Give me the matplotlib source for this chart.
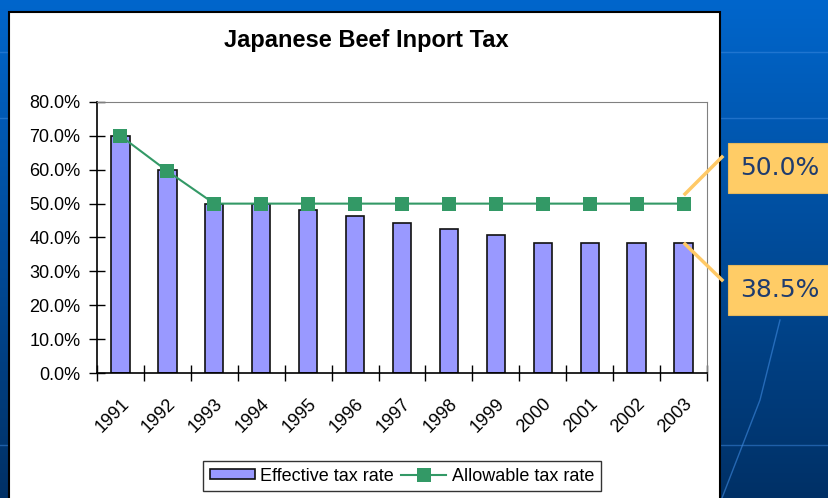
import numpy as np
import matplotlib
matplotlib.use("Agg")
import matplotlib.pyplot as plt
from matplotlib.patches import Rectangle
from matplotlib.lines import Line2D
from matplotlib.ticker import FuncFormatter, FixedLocator

plt.rcParams['font.family'] = ['Liberation Sans', 'DejaVu Sans']

# data
years = ['1991', '1992', '1993', '1994', '1995', '1996', '1997',
         '1998', '1999', '2000', '2001', '2002', '2003']
effective = [70.0, 60.0, 50.0, 50.0, 48.1, 46.2, 44.3, 42.5, 40.6, 38.5, 38.5, 38.5, 38.5]
allowable = [70.0, 59.6, 50.0, 50.0, 50.0, 50.0, 50.0, 50.0, 50.0, 50.0, 50.0, 50.0, 50.0]
callouts = ['50.0%', '38.5%']

W, H = 829, 498
fig = plt.figure(figsize=(W / 100, H / 100), dpi=100)


def fx(px):
    return px / W


def fy(py):
    return 1 - py / H


# slide background: blue gradient
bg = fig.add_axes([0, 0, 1, 1])
grad = np.linspace(0, 1, 256).reshape(-1, 1)
top = np.array([0.0, 0.40, 0.80])
bot = np.array([0.0, 0.19, 0.40])
img = top + (bot - top) * grad[:, :, None]
bg.imshow(img, aspect='auto', extent=[0, 1, 0, 1], origin='upper')
bg.set_xlim(0, 1)
bg.set_ylim(0, 1)
bg.axis('off')
for py in [52, 118, 445]:
    bg.add_line(Line2D([0, 1], [fy(py), fy(py)], color='#3f8ae0', lw=1, alpha=0.5))
bg.add_line(Line2D([fx(780), fx(760), fx(722)], [fy(320), fy(400), fy(498)],
                   color='#3f8ae0', lw=1, alpha=0.6))

# white chart panel
bg.add_patch(Rectangle((fx(9), fy(510)), fx(720) - fx(9), fy(12) - fy(510),
                       facecolor='white', edgecolor='black', lw=1.5, zorder=2))

fig.text(fx(366), fy(40), 'Japanese Beef Inport Tax', ha='center', va='center',
         fontsize=17, fontweight='bold')

ax = fig.add_axes([fx(97), fy(373), fx(707) - fx(97), fy(102) - fy(373)])
x = np.arange(len(years))
bars = ax.bar(x, effective, width=0.39, color='#9999ff', edgecolor='#111111', lw=1.2,
              label='Effective tax rate', zorder=2)
line, = ax.plot(x, allowable, color='#339966', lw=1.5, marker='s', markersize=10,
                markeredgewidth=0, label='Allowable tax rate', zorder=3)

ax.set_xlim(-0.5, len(years) - 0.5)
ax.set_ylim(0, 80)
ax.set_yticks(np.arange(0, 81, 10))
ax.yaxis.set_major_formatter(FuncFormatter(lambda v, p: f'{v:.1f}%'))
ax.tick_params(axis='y', direction='inout', length=12, width=1, labelsize=13, pad=6)

ax.set_xticks(x)
ax.set_xticklabels(years, rotation=45, ha='right', va='top', rotation_mode='anchor')
ax.tick_params(axis='x', which='major', length=0, labelsize=13, pad=16)
ax.xaxis.set_minor_locator(FixedLocator(np.arange(-0.5, len(years), 1.0)))
ax.tick_params(axis='x', which='minor', direction='inout', length=12, width=1)

for s in ['top', 'right']:
    ax.spines[s].set_color('#808080')
for s in ['left', 'bottom']:
    ax.spines[s].set_color('black')
    ax.spines[s].set_linewidth(1.2)

leg = fig.legend([bars, line], ['Effective tax rate', 'Allowable tax rate'],
                 loc='center', bbox_to_anchor=(fx(402), fy(476)), ncol=2,
                 frameon=True, fancybox=False, fontsize=13, handlelength=2.5,
                 handleheight=0.5, handletextpad=0.3, columnspacing=0.4, borderpad=0.35)
leg.get_frame().set_edgecolor('black')
leg.get_frame().set_linewidth(1)

# callouts on the right
for (cy, txt) in zip([168, 290], callouts):
    fig.patches.append(Rectangle((fx(728), fy(cy + 25)), fx(829) - fx(728) + 0.01,
                                 fy(cy - 25) - fy(cy + 25), transform=fig.transFigure,
                                 facecolor='#ffcc66', edgecolor='#e6b85c', lw=0.8,
                                 zorder=5))
    fig.text(fx(780), fy(cy), txt, ha='center', va='center', fontsize=18,
             color='#1f3c6e', family='DejaVu Sans', zorder=6)

fig.lines.append(Line2D([fx(685), fx(722)], [fy(194), fy(157)], transform=fig.transFigure,
                        color='#ffc966', lw=2.5, zorder=5))
fig.lines.append(Line2D([fx(685), fx(722)], [fy(244), fy(280)], transform=fig.transFigure,
                        color='#ffc966', lw=2.5, zorder=5))

fig.savefig('out.png', dpi=100)
